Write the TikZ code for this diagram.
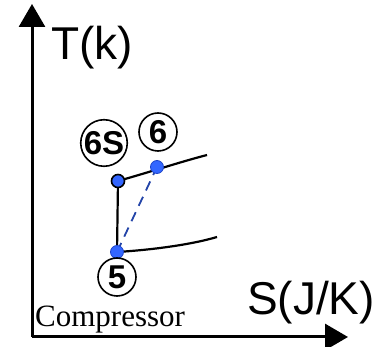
\documentclass[tikz,border=0pt]{standalone}
\usepackage{fontspec}
\usetikzlibrary{arrows.meta}
\newfontfamily\axisfont{Liberation Sans}
\newfontfamily\capfont{Liberation Serif}
\definecolor{cDot}{HTML}{3366FF}
\definecolor{cDotEdge}{HTML}{1F45C8}
\definecolor{cDash}{HTML}{2344A8}

\begin{document}
\begin{tikzpicture}[
  x=1pt, y=-1pt,
  axis/.style={line width=3pt, -{Triangle[length=23pt, width=26pt]}},
  axlabel/.style={anchor=base west, inner sep=0pt,
                  font=\axisfont\fontsize{46}{50}\selectfont},
  curve/.style={line width=2.2pt},
  statept/.style={circle, draw=black, line width=1.6pt, minimum size=38pt,
                  inner sep=0pt, font=\axisfont\bfseries\fontsize{33}{35}\selectfont},
  dot/.style={circle, fill=cDot, draw=cDotEdge, line width=0.8pt,
              minimum size=13pt, inner sep=0pt},
]
\useasboundingbox (0,0) rectangle (389,347);

% ====================== axes ============================================
\coordinate (o) at (32,337);
\coordinate (ytip) at (32,4);
\coordinate (xtip) at (348,337);
\draw[axis] (o) -- (ytip);
\draw[axis] (o) -- (xtip);
\node[axlabel] (tlab) at (51,60) {T(k)};
\node[axlabel] (slab) at (247,315) {S(J/K)};
\node[anchor=base west, inner sep=0pt,
      font=\capfont\fontsize{31}{34}\selectfont] (comp) at (35,327) {Compressor};

% ====================== isobars =========================================
\coordinate (hi) at (207,155);
\coordinate (lo) at (217,237);
\draw[curve] (118,181) .. controls (150,172) and (180,162) .. (hi);
\draw[curve] (117,252) .. controls (150,250) and (190,245) .. (lo);

% ====================== compression =====================================
\coordinate (p6s) at (118,181);
\coordinate (p6) at (157,167);
\coordinate (p5) at (117,252);
\draw[curve] (p5) -- (p6s);
\draw[line width=1.8pt, cDash, dash pattern=on 10pt off 7pt] (p5) -- (p6);

\node[dot, draw=black, line width=1.6pt] (d6s) at (p6s) {};
\node[dot] (d6) at (p6) {};
\node[dot] (d5) at (p5) {};

% state labels
\node[statept] (s6s) at (104,143) {6S};
\node[statept] (s6) at (158,132) {6};
\node[statept] (s5) at (117,277) {5};

\end{tikzpicture}
\end{document}
